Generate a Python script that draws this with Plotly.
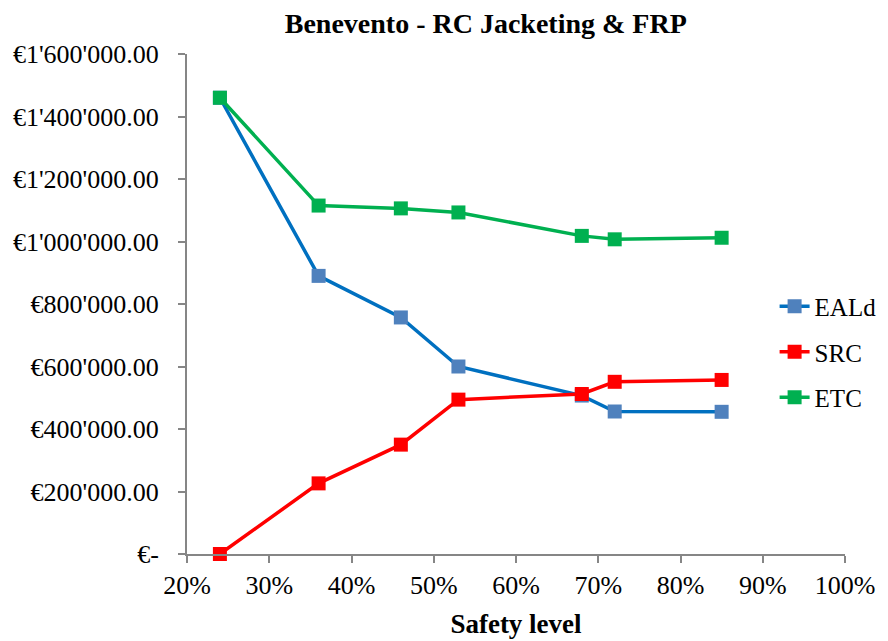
import plotly.graph_objects as go

# safety level (%), costs in euro
safety_level = [0.24, 0.36, 0.46, 0.53, 0.68, 0.72, 0.85]
ealc = [1460000, 890000, 757000, 600000, 507000, 456000, 455000]
src = [0, 226000, 350000, 494000, 512000, 551000, 557000]
etc = [1460000, 1115000, 1106000, 1093000, 1018000, 1007000, 1012000]

y_ticks = [0, 200000, 400000, 600000, 800000, 1000000, 1200000, 1400000, 1600000]
y_labels = ["€-", "€200'000.00", "€400'000.00", "€600'000.00", "€800'000.00",
            "€1'000'000.00", "€1'200'000.00", "€1'400'000.00", "€1'600'000.00"]
x_ticks = [0.2, 0.3, 0.4, 0.5, 0.6, 0.7, 0.8, 0.9, 1.0]
x_labels = ["20%", "30%", "40%", "50%", "60%", "70%", "80%", "90%", "100%"]

series = [
    ("EALd", ealc, "#0070C0", "#4F81BD"),
    ("SRC", src, "#FF0000", "#FF0000"),
    ("ETC", etc, "#00B050", "#00B050"),
]

FONT = "Liberation Serif, Times New Roman, serif"

fig = go.Figure()
for name, vals, line_col, mark_col in series:
    fig.add_trace(go.Scatter(
        x=safety_level, y=vals, name=name, mode="lines+markers",
        line=dict(color=line_col, width=3.5),
        marker=dict(symbol="square", size=14, color=mark_col),
        legendgroup=name,
        cliponaxis=False,
    ))

axis_col = "#868686"
fig.update_layout(
    width=888, height=641,
    margin=dict(l=179, r=51, t=46, b=95, autoexpand=False),
    paper_bgcolor="white", plot_bgcolor="white",
    font=dict(family=FONT, size=26, color="black"),
    title=dict(text="<b>Benevento - RC Jacketing & FRP</b>", x=0.538, xanchor="center",
               xref="container", yref="container",
               y=0.992, yanchor="top", pad=dict(t=0), font=dict(size=28)),
    showlegend=True,
    legend=dict(x=0.893, xanchor="left", y=0.404, yanchor="middle",
                bgcolor="rgba(0,0,0,0)", font=dict(size=25),
                tracegroupgap=10),
    xaxis=dict(
        range=[0.2, 1.0], tickvals=x_ticks, ticktext=x_labels,
        showline=True, linecolor=axis_col, linewidth=2,
        ticks="outside", ticklen=7, tickcolor=axis_col, tickwidth=2,
        showgrid=False, zeroline=False, automargin=False,
        title=dict(text="<b>Safety level</b>", font=dict(size=27), standoff=15),
    ),
    yaxis=dict(
        range=[0, 1600000], tickvals=y_ticks, ticktext=y_labels,
        showline=True, linecolor=axis_col, linewidth=2,
        ticks="outside", ticklen=7, tickcolor=axis_col, tickwidth=2,
        ticklabelstandoff=14, tickfont=dict(size=26),
        showgrid=False, zeroline=False, automargin=False,
    ),
)

fig.write_html("out.html")
